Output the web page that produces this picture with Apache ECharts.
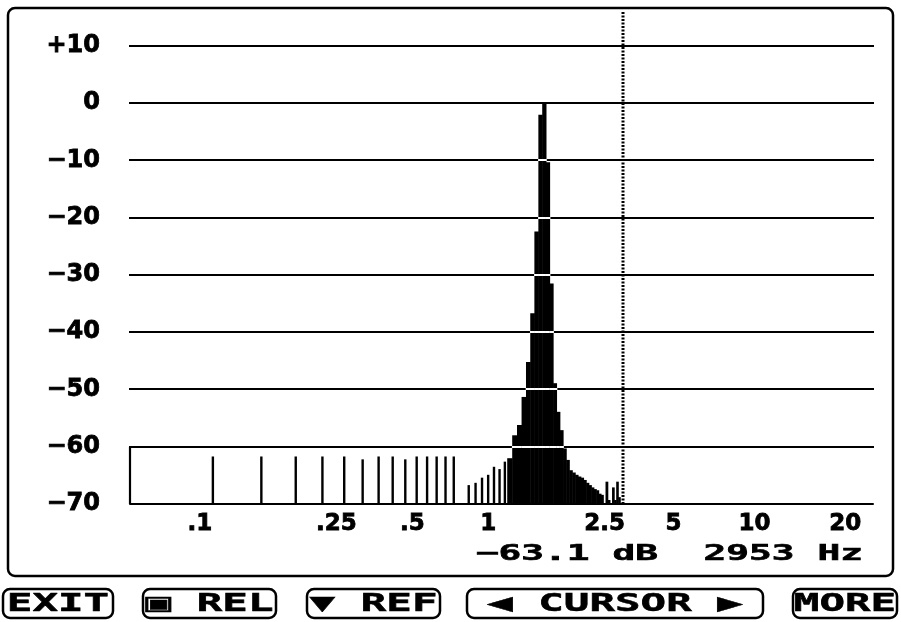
<!DOCTYPE html>
<html><head><meta charset="utf-8">
<script src="https://cdn.jsdelivr.net/npm/echarts@6/dist/echarts.min.js"></script>
<style>html,body{margin:0;padding:0;background:#fff}#c{width:901px;height:622px}</style>
</head><body><div id="c"></div>
<script>
// ---- data ----
const binWidthKHz = 0.05; // FFT bin spacing (50 Hz)
const binIndex = [2,3,4,5,6,7,8,9,10,11,12,13,14,15,
  17,18,19,20,21,22,23,24,25,26,27,28,29,30,31,32,33,34,35,36,37,38,39,40,
  41,42,43,44,45,46,47,48,49,50,51,52,54,55,57,58,59,60];
const levelDb = [-61.7,-61.7,-61.7,-61.7,-61.7,-62.2,-61.7,-61.7,-62.2,-61.7,-61.7,-61.7,-61.7,-61.7,
  -66.7,-66.3,-65.4,-64.9,-63.5,-63.9,-62.6,-62.0,-58.0,-56.2,-51.3,-45.2,-36.7,-22.4,-2.0,0.0,-10.3,-31.5,-48.9,-53.9,-57.1,-60.3,-62.3,-64.1,
  -64.5,-64.9,-65.2,-65.4,-65.8,-66.3,-66.7,-67.1,-67.4,-67.6,-68.2,-68.4,-66.1,-69.3,-67.1,-69.3,-66.1,-68.8];
const yTicks = [-70,-60,-50,-40,-30,-20,-10,0,10];
const yTickLabels = ['−70','−60','−50','−40','−30','−20','−10','0','+10'];
const xTickValues = [0.1,0.25,0.5,1,2.5,5,10,20];
const xTickLabels = ['.1','.25','.5','1','2.5','5','10','20'];
const cursorKHz = 3.1;
const readoutText = '−63.1 dB  2953 Hz';
const buttonLabels = ['EXIT','▣ REL','▼ REF','◀ CURSOR ▶','MORE'];

// ---- layout (not data) ----
const xMin = 0.05, xMax = 25, yMin = -70, yTop = 16.46;
const xLabelShiftPx = [-13, 14, 7, 0, 7, -7, -9, -1]; // character-grid placement of the instrument's labels
const btnBoxes = [[3,113],[143,276],[307,440],[467,763],[793,897]];

const chart = echarts.init(document.getElementById('c'), null, {renderer:'canvas'});

const barData = binIndex.map((k,i)=>[k*binWidthKHz, levelDb[i]]);
const gridData = yTicks.filter(v=>v>yMin).map(v=>[xMin, v]);
const gridAbove = yTicks.filter(v=>v>yMin);

const monoFont = '"DejaVu Sans Mono", monospace';

const rich = {};
xLabelShiftPx.forEach((s,i)=>{
  rich['l'+i] = {fontFamily:'DejaVu Sans', fontWeight:'bold', fontSize:23, color:'#000',
    textBorderColor:'#000', textBorderWidth:0.8,
    padding: s>=0 ? [0,0,0,2*s] : [0,-2*s,0,0]};
});

const graphics = [
  {type:'rect', shape:{x:8,y:8,width:885,height:568,r:7}, style:{fill:null, stroke:'#000', lineWidth:2.5}, z:-1},
  {type:'text', x:863, y:554, scaleX:1.72, style:{text:readoutText, fontFamily:monoFont, fontWeight:'bold', fontSize:22, fill:'#000', stroke:'#000', lineWidth:0.6, textAlign:'right', textVerticalAlign:'middle'}}
];
buttonLabels.forEach((t,i)=>{
  const [a,b] = btnBoxes[i];
  graphics.push({type:'rect', shape:{x:a,y:589,width:b-a,height:29,r:7}, style:{fill:null, stroke:'#000', lineWidth:2.5}});
  graphics.push({type:'text', x:(a+b)/2, y:604, scaleX:1.7, style:{text:t, fontFamily:monoFont, fontWeight:'bold', fontSize:25, fill:'#000', stroke:'#000', lineWidth:0.5, textAlign:'center', textVerticalAlign:'middle'}});
});

chart.setOption({
  backgroundColor:'#fff',
  animation:false,
  grid:{left:130, right:28, top:9, bottom:118, containLabel:false},
  xAxis:{type:'log', logBase:10, min:xMin, max:xMax,
    axisLine:{show:true, onZero:false, lineStyle:{color:'#000', width:2}},
    axisTick:{show:false}, splitLine:{show:false}, minorSplitLine:{show:false},
    axisLabel:{customValues:xTickValues, margin:9, rich,
      formatter:(v)=>{ for(let i=0;i<xTickValues.length;i++){ if(Math.abs(xTickValues[i]-v)<1e-6*xTickValues[i]+1e-9) return '{l'+i+'|'+xTickLabels[i]+'}'; } return ''; }}
  },
  yAxis:{type:'value', min:yMin, max:yTop, interval:10,
    axisLine:{show:false}, axisTick:{show:false}, splitLine:{show:false},
    axisLabel:{margin:30, color:'#000', fontFamily:'DejaVu Sans', fontWeight:'bold', fontSize:24,
      textBorderColor:'#000', textBorderWidth:0.8,
      formatter:(v)=>{ const i = yTicks.indexOf(Math.round(v)); return (i>=0 && Math.abs(v-Math.round(v))<1e-6) ? yTickLabels[i] : ''; }}
  },
  graphic: graphics,
  series:[
    {type:'custom', name:'grid', z:1, data:gridData,
      renderItem:(params, api)=>{
        const v = api.value(1);
        const p0 = api.coord([xMin, v]);
        const p1 = api.coord([xMax, v]);
        const y = Math.round(p0[1]);
        const children = [{type:'line', shape:{x1:p0[0]-1, y1:y, x2:p1[0]+1, y2:y}, style:{stroke:'#000', lineWidth:2.2}}];
        if (v === -60) {
          const b = api.coord([xMin, yMin]);
          children.push({type:'line', shape:{x1:p0[0], y1:y, x2:b[0], y2:b[1]}, style:{stroke:'#000', lineWidth:2.2}});
        }
        return {type:'group', children};
      }},
    {type:'custom', name:'spectrum', z:2, data:barData, clip:true,
      renderItem:(params, api)=>{
        const f = api.value(0), v = api.value(1);
        const top = api.coord([f, v]);
        const base = api.coord([f, yMin]);
        const next = api.coord([f + binWidthKHz, v]);
        const spacing = next[0]-top[0];
        const w = spacing >= 5 ? 2.4 : spacing + 0.6;
        const children = [{type:'rect', shape:{x:top[0]-w/2, y:top[1], width:w, height:base[1]-top[1]}, style:{fill:'#000'}}];
        // grid lines show inverted (white) where they cross a bar, as on the instrument display
        gridAbove.forEach(g=>{
          if (g < v) {
            const gy = Math.round(api.coord([f, g])[1]);
            children.push({type:'rect', shape:{x:top[0]-w/2-0.3, y:gy-1, width:w+0.6, height:2}, style:{fill:'#fff'}});
          }
        });
        return {type:'group', children};
      }},
    {type:'custom', name:'cursor', z:4, data:[[cursorKHz, yMin]],
      renderItem:(params, api)=>{
        const c = api.value(0);
        const a = api.coord([c, yMin]);
        const b = api.coord([c, yTop]);
        const x = Math.round(a[0]);
        return {type:'line', shape:{x1:x, y1:a[1], x2:x, y2:b[1]+2}, style:{stroke:'#000', lineWidth:3, lineDash:[2,1.5]}};
      }}
  ]
});
</script></body></html>
